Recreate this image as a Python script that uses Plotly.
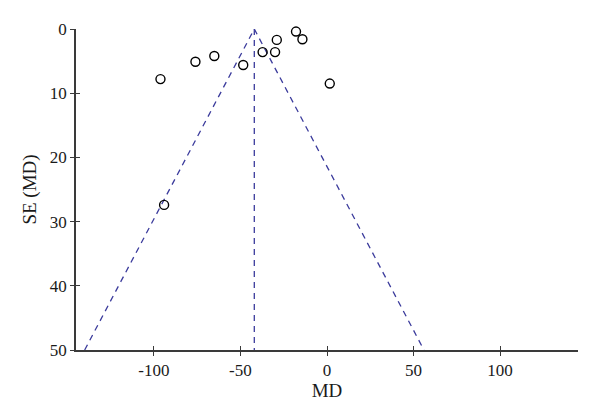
import plotly.graph_objects as go

# Study points (mean difference vs standard error)
md_values = [-96.2, -76.0, -65.1, -48.4, -37.2, -30.0, -29.0, -17.9, -14.2, 1.6, -94.1]
se_values = [7.8, 5.1, 4.2, 5.6, 3.6, 3.6, 1.7, 0.4, 1.6, 8.5, 27.4]

# Funnel definition
pooled_md = -42.0
funnel_se = [50, 0, 50]
funnel_md = [pooled_md - 1.96 * 50, pooled_md, pooled_md + 1.96 * 50]
center_md = [pooled_md, pooled_md]
center_se = [0, 50]

x_ticks = [-100, -50, 0, 50, 100]
x_tick_labels = ["-100", "-50", "0", "50", "100"]
y_ticks = [0, 10, 20, 30, 40, 50]
y_tick_labels = ["0", "10", "20", "30", "40", "50"]

FONT = "Liberation Serif"
LINE_COL = "#3b3b9c"
AXIS_COL = "#3a3a3a"
TEXT_COL = "#1a1a1a"

fig = go.Figure()
fig.add_trace(go.Scatter(x=funnel_md, y=funnel_se, mode="lines",
                         line=dict(color=LINE_COL, width=1.3, dash="6px,5px"),
                         hoverinfo="skip", showlegend=False))
fig.add_trace(go.Scatter(x=center_md, y=center_se, mode="lines",
                         line=dict(color=LINE_COL, width=1.3, dash="6px,5px"),
                         hoverinfo="skip", showlegend=False))
fig.add_trace(go.Scatter(x=md_values, y=se_values, mode="markers", cliponaxis=False,
                         marker=dict(symbol="circle-open", size=9, color="black",
                                     line=dict(width=1.4, color="black")),
                         showlegend=False))
# dummy trace for inner-tick overlay axes (ticks crossing the axis line)
fig.add_trace(go.Scatter(x=[None], y=[None], xaxis="x2", yaxis="y2",
                         showlegend=False, hoverinfo="skip"))

fig.update_layout(
    width=592, height=411,
    margin=dict(l=68, r=22, t=21, b=69),
    paper_bgcolor="white", plot_bgcolor="white",
    font=dict(family=FONT, size=17, color=TEXT_COL),
    xaxis=dict(range=[-145, 145], tickmode="array", tickvals=x_ticks, ticktext=x_tick_labels,
               ticks="outside", ticklen=4,
               tickwidth=1.2, tickcolor=AXIS_COL, showline=True, linecolor=AXIS_COL,
               linewidth=1.6, showgrid=False, zeroline=False,
               title=dict(text="MD", font=dict(family=FONT, size=19, color=TEXT_COL), standoff=4),
               tickfont=dict(family=FONT, size=17, color=TEXT_COL)),
    yaxis=dict(range=[50, 0], tickmode="array", tickvals=y_ticks, ticktext=y_tick_labels,
               ticks="outside", ticklen=4,
               tickwidth=1.2, tickcolor=AXIS_COL, showline=True, linecolor=AXIS_COL,
               linewidth=1.6, showgrid=False, zeroline=False,
               title=dict(text="SE (MD)", font=dict(family=FONT, size=19, color=TEXT_COL), standoff=8),
               tickfont=dict(family=FONT, size=17, color=TEXT_COL)),
    xaxis2=dict(overlaying="x", matches="x", range=[-145, 145], tickmode="array", tickvals=x_ticks,
                ticks="inside", ticklen=4, tickwidth=1.2, tickcolor=AXIS_COL,
                showticklabels=False, showgrid=False, zeroline=False, showline=False,
                anchor="y2", side="bottom"),
    yaxis2=dict(overlaying="y", matches="y", range=[50, 0], tickmode="array", tickvals=y_ticks,
                ticks="inside", ticklen=4, tickwidth=1.2, tickcolor=AXIS_COL,
                showticklabels=False, showgrid=False, zeroline=False, showline=False,
                anchor="x2", side="left"),
)

fig.write_html("out.html")
